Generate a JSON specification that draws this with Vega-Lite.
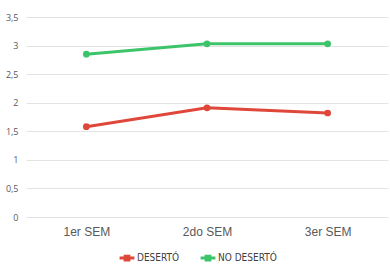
{
  "$schema": "https://vega.github.io/schema/vega-lite/v6.json",
  "autosize": "none",
  "width": 362,
  "height": 200,
  "padding": {"left": 26, "top": 17, "right": 2, "bottom": 53},
  "background": "white",
  "data": {"values": [
    {"sem": "1er SEM", "serie": "DESERTÓ", "valor": 1.58},
    {"sem": "2do SEM", "serie": "DESERTÓ", "valor": 1.91},
    {"sem": "3er SEM", "serie": "DESERTÓ", "valor": 1.82},
    {"sem": "1er SEM", "serie": "NO DESERTÓ", "valor": 2.85},
    {"sem": "2do SEM", "serie": "NO DESERTÓ", "valor": 3.03},
    {"sem": "3er SEM", "serie": "NO DESERTÓ", "valor": 3.03}
  ]},
  "mark": {"type": "line", "strokeWidth": 3, "point": {"size": 45, "filled": true}},
  "encoding": {
    "x": {"field": "sem", "type": "ordinal", "sort": null, "scale": {"type": "point", "padding": 0.5},
      "axis": {"title": null, "labelAngle": 0, "domain": false, "ticks": false, "labelFont": "Liberation Sans", "labelFontSize": 12, "labelColor": "#595959", "labelPadding": 9}},
    "y": {"field": "valor", "type": "quantitative", "scale": {"domain": [0, 3.5]},
      "axis": {"title": null, "values": [0, 0.5, 1, 1.5, 2, 2.5, 3, 3.5], "labelExpr": "replace(format(datum.value, '.1~f'), '.', ',')", "domain": false, "ticks": false, "labelFont": "Open Sans", "labelFontSize": 9, "labelColor": "#595959", "labelPadding": 8, "gridColor": "#e3e3e3"}},
    "color": {"field": "serie", "type": "nominal", "scale": {"domain": ["DESERTÓ", "NO DESERTÓ"], "range": ["#e0473b", "#3cc46a"]},
      "legend": {"title": null, "orient": "none", "legendX": 92, "legendY": 232, "direction": "horizontal", "labelFont": "DejaVu Sans Condensed", "labelFontSize": 10, "labelColor": "#404040", "labelOffset": 1, "symbolType": "M-1,0H1M-0.25,-0.25H0.25V0.25H-0.25Z", "symbolStrokeWidth": 3, "symbolSize": 220, "symbolFillColor": "transparent", "columnPadding": 14}}
  },
  "config": {"view": {"stroke": null}}
}
